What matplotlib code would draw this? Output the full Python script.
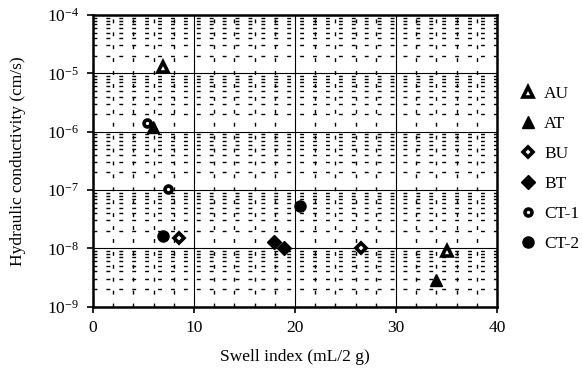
import matplotlib
matplotlib.use("Agg")
import matplotlib.pyplot as plt
from matplotlib.ticker import MultipleLocator, LogLocator, FixedLocator

plt.rcParams["font.family"] = ["Liberation Serif", "DejaVu Serif"]
plt.rcParams["mathtext.fontset"] = "custom"
plt.rcParams["mathtext.rm"] = "Liberation Serif"
plt.rcParams["mathtext.it"] = "Liberation Serif:italic"
plt.rcParams["mathtext.bf"] = "Liberation Serif:bold"

# ---
# Data (swell index, hydraulic conductivity)
# ---
au_x = [6.9, 35.0]
au_k = [1.3e-5, 9.0e-9]
at_x = [5.9, 34.0]
at_k = [1.19e-6, 2.9e-9]
bu_x = [8.5, 26.5]
bu_k = [1.5e-8, 1.02e-8]
bt_x = [17.9, 18.9]
bt_k = [1.28e-8, 1.0e-8]
ct1_x = [5.35, 7.4]
ct1_k = [1.42e-6, 1.02e-7]
ct2_x = [6.9, 20.5]
ct2_k = [1.62e-8, 5.3e-8]

x_ticks = [0, 10, 20, 30, 40]
y_ticks = [1e-9, 1e-8, 1e-7, 1e-6, 1e-5, 1e-4]
y_labels = ["10$^{-9}$", "10$^{-8}$", "10$^{-7}$", "10$^{-6}$", "10$^{-5}$", "10$^{-4}$"]

fs = 12.5

fig = plt.figure(figsize=(5.82, 3.71), dpi=100)
ax = fig.add_axes([93 / 582, 1 - 306.6 / 371, (497 - 93) / 582, (306.6 - 15) / 371])

ax.set_yscale("log")
ax.set_xlim(0, 40)
ax.set_ylim(1e-9, 1e-4)

# grid: solid majors, dashed minors (Excel style)
ax.xaxis.set_major_locator(FixedLocator(x_ticks))
ax.xaxis.set_minor_locator(MultipleLocator(2))
ax.yaxis.set_major_locator(FixedLocator(y_ticks))
ax.yaxis.set_minor_locator(LogLocator(base=10, subs=range(2, 10), numticks=20))
ax.grid(which="major", color="black", linewidth=0.8, linestyle="-")
ax.grid(which="minor", color="black", linewidth=1.0, linestyle=(0, (2.8, 6.5)))
ax.set_axisbelow(True)

ax.set_xticklabels([str(t) for t in x_ticks], fontsize=fs)
ax.set_yticklabels(y_labels, fontsize=fs)
ax.tick_params(which="major", direction="out", length=4, width=1.2, color="black", pad=6)
ax.tick_params(which="minor", length=0)
for sp in ax.spines.values():
    sp.set_linewidth(1.8)
    sp.set_color("black")

ax.set_xlabel("Swell index (mL/2 g)", fontsize=fs, labelpad=9)
ax.set_ylabel("Hydraulic conductivity (cm/s)", fontsize=fs, labelpad=15)

# markers
ax.plot(au_x, au_k, linestyle="none", marker="^", ms=6.5, mfc="white", mec="black", mew=2.6,
        label="AU", zorder=3, clip_on=False)
ax.plot(at_x, at_k, linestyle="none", marker="^", ms=8.5, mfc="black", mec="black", mew=1,
        label="AT", zorder=5, clip_on=False)
ax.plot(bu_x, bu_k, linestyle="none", marker="D", ms=5.5, mfc="white", mec="black", mew=2.6,
        label="BU", zorder=3, clip_on=False)
ax.plot(bt_x, bt_k, linestyle="none", marker="D", ms=7, mfc="black", mec="black", mew=1,
        label="BT", zorder=3, clip_on=False)
ax.plot(ct1_x, ct1_k, linestyle="none", marker="o", ms=5, mfc="white", mec="black", mew=2.6,
        label="CT-1", zorder=4, clip_on=False)
ax.plot(ct2_x, ct2_k, linestyle="none", marker="o", ms=8, mfc="black", mec="black", mew=1,
        label="CT-2", zorder=3, clip_on=False)

ax.legend(loc="upper left", bbox_to_anchor=(519 / 582, 1 - 86 / 371),
          bbox_transform=fig.transFigure, frameon=False, fontsize=fs,
          handlelength=1.0, handletextpad=0.45, labelspacing=0.8, borderpad=0,
          borderaxespad=0, numpoints=1)

fig.savefig("out.png", dpi=100)
